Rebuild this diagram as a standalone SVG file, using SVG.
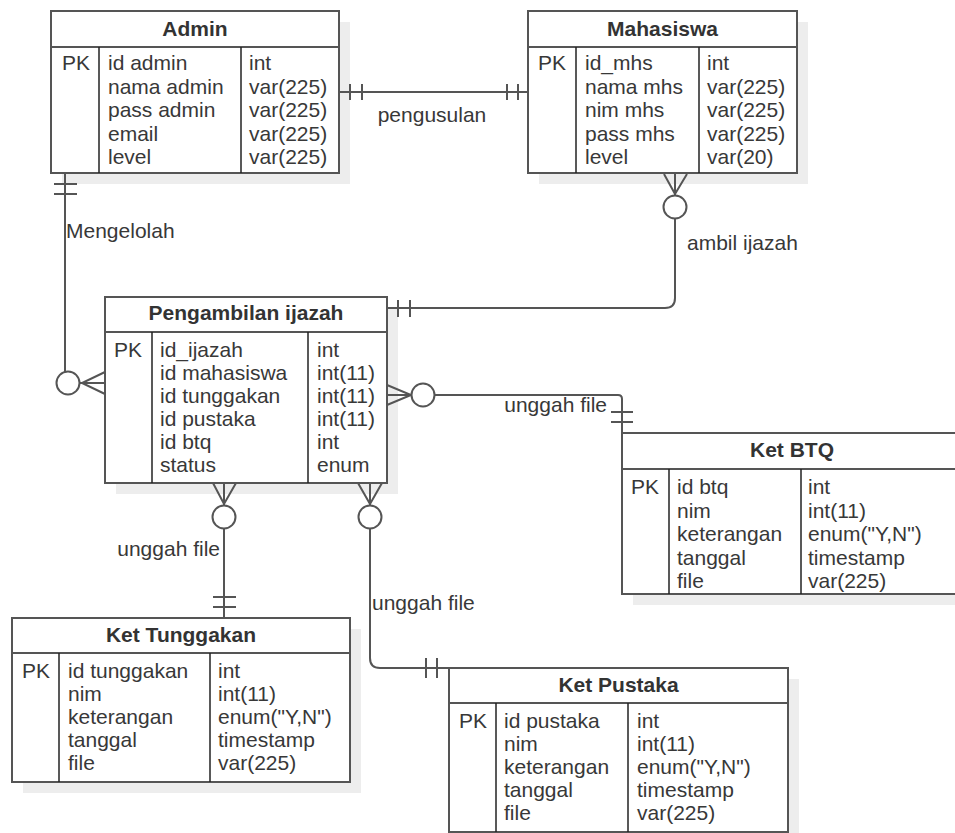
<svg xmlns="http://www.w3.org/2000/svg" width="955" height="833" viewBox="0 0 955 833">
  <style>
    text { font-family: "Liberation Sans", Arial, sans-serif; font-size: 21px; fill: #383838; }
    .hd { font-weight: bold; text-anchor: middle; fill: #333; }
    .shadow { fill: #ededed; stroke: none; }
    .box { fill: #fff; stroke: #555; stroke-width: 2; }
    .sep { stroke: #555; stroke-width: 2; }
    .col { stroke: #222; stroke-width: 1.5; }
    .edge { fill: none; stroke: #555; stroke-width: 2; }
    .ring { fill: #fff; stroke: #555; stroke-width: 2; }
  </style>

  <!-- entity tables -->
  <g id="admin">
    <rect class="shadow" x="62" y="22" width="288" height="162"/>
    <rect class="box" x="51" y="11" width="288" height="162"/>
    <line class="sep" x1="51" y1="47" x2="339" y2="47"/>
    <line class="col" x1="99" y1="47" x2="99" y2="173"/>
    <line class="col" x1="241" y1="47" x2="241" y2="173"/>
    <text class="hd" x="195" y="36">Admin</text>
    <text x="62" y="70">PK</text>
    <text x="108" y="70">id admin</text>
    <text x="108" y="93.5">nama admin</text>
    <text x="108" y="117">pass admin</text>
    <text x="108" y="140.5">email</text>
    <text x="108" y="164">level</text>
    <text x="249" y="70">int</text>
    <text x="249" y="93.5">var(225)</text>
    <text x="249" y="117">var(225)</text>
    <text x="249" y="140.5">var(225)</text>
    <text x="249" y="164">var(225)</text>
  </g>

  <g id="mahasiswa">
    <rect class="shadow" x="539" y="22" width="269" height="162"/>
    <rect class="box" x="528" y="11" width="269" height="162"/>
    <line class="sep" x1="528" y1="47" x2="797" y2="47"/>
    <line class="col" x1="576" y1="47" x2="576" y2="173"/>
    <line class="col" x1="699" y1="47" x2="699" y2="173"/>
    <text class="hd" x="662.5" y="36">Mahasiswa</text>
    <text x="538" y="70">PK</text>
    <text x="585" y="70">id_mhs</text>
    <text x="585" y="93.5">nama mhs</text>
    <text x="585" y="117">nim mhs</text>
    <text x="585" y="140.5">pass mhs</text>
    <text x="585" y="164">level</text>
    <text x="707" y="70">int</text>
    <text x="707" y="93.5">var(225)</text>
    <text x="707" y="117">var(225)</text>
    <text x="707" y="140.5">var(225)</text>
    <text x="707" y="164">var(20)</text>
  </g>

  <g id="pengambilan-ijazah">
    <rect class="shadow" x="116" y="308" width="282" height="186"/>
    <rect class="box" x="105" y="297" width="282" height="186"/>
    <line class="sep" x1="105" y1="332" x2="387" y2="332"/>
    <line class="col" x1="152" y1="332" x2="152" y2="483"/>
    <line class="col" x1="308" y1="332" x2="308" y2="483"/>
    <text class="hd" x="246" y="320">Pengambilan ijazah</text>
    <text x="114" y="357">PK</text>
    <text x="160" y="357">id_ijazah</text>
    <text x="160" y="380">id mahasiswa</text>
    <text x="160" y="403">id tunggakan</text>
    <text x="160" y="426">id pustaka</text>
    <text x="160" y="449">id btq</text>
    <text x="160" y="472">status</text>
    <text x="317" y="357">int</text>
    <text x="317" y="380">int(11)</text>
    <text x="317" y="403">int(11)</text>
    <text x="317" y="426">int(11)</text>
    <text x="317" y="449">int</text>
    <text x="317" y="472">enum</text>
  </g>

  <g id="ket-btq">
    <rect class="shadow" x="633" y="444" width="340" height="161"/>
    <rect class="box" x="622" y="433" width="340" height="161"/>
    <line class="sep" x1="622" y1="469" x2="962" y2="469"/>
    <line class="col" x1="669" y1="469" x2="669" y2="594"/>
    <line class="col" x1="801" y1="469" x2="801" y2="594"/>
    <text class="hd" x="792" y="457">Ket BTQ</text>
    <text x="631" y="494">PK</text>
    <text x="677" y="494">id btq</text>
    <text x="677" y="517.5">nim</text>
    <text x="677" y="541">keterangan</text>
    <text x="677" y="564.5">tanggal</text>
    <text x="677" y="588">file</text>
    <text x="808" y="494">int</text>
    <text x="808" y="517.5">int(11)</text>
    <text x="808" y="541">enum("Y,N")</text>
    <text x="808" y="564.5">timestamp</text>
    <text x="808" y="588">var(225)</text>
  </g>

  <g id="ket-tunggakan">
    <rect class="shadow" x="23" y="629" width="338" height="164"/>
    <rect class="box" x="12" y="618" width="338" height="164"/>
    <line class="sep" x1="12" y1="653" x2="350" y2="653"/>
    <line class="col" x1="59" y1="653" x2="59" y2="782"/>
    <line class="col" x1="210" y1="653" x2="210" y2="782"/>
    <text class="hd" x="181" y="642">Ket Tunggakan</text>
    <text x="22" y="678">PK</text>
    <text x="68" y="678">id tunggakan</text>
    <text x="68" y="701">nim</text>
    <text x="68" y="724">keterangan</text>
    <text x="68" y="747">tanggal</text>
    <text x="68" y="770">file</text>
    <text x="218" y="678">int</text>
    <text x="218" y="701">int(11)</text>
    <text x="218" y="724">enum("Y,N")</text>
    <text x="218" y="747">timestamp</text>
    <text x="218" y="770">var(225)</text>
  </g>

  <g id="ket-pustaka">
    <rect class="shadow" x="460" y="679" width="339" height="164"/>
    <rect class="box" x="449" y="668" width="339" height="164"/>
    <line class="sep" x1="449" y1="703" x2="788" y2="703"/>
    <line class="col" x1="496" y1="703" x2="496" y2="832"/>
    <line class="col" x1="628" y1="703" x2="628" y2="832"/>
    <text class="hd" x="618.5" y="692">Ket Pustaka</text>
    <text x="459" y="728">PK</text>
    <text x="504" y="728">id pustaka</text>
    <text x="504" y="751">nim</text>
    <text x="504" y="774">keterangan</text>
    <text x="504" y="797">tanggal</text>
    <text x="504" y="820">file</text>
    <text x="637" y="728">int</text>
    <text x="637" y="751">int(11)</text>
    <text x="637" y="774">enum("Y,N")</text>
    <text x="637" y="797">timestamp</text>
    <text x="637" y="820">var(225)</text>
  </g>

  <!-- relationships -->
  <g id="connectors">
    <!-- Admin || pengusulan || Mahasiswa -->
    <path class="edge" d="M339,92 H528"/>
    <path class="edge" d="M350,84 V100 M362,84 V100 M507,84 V100 M518,84 V100"/>
    <text x="432" y="122" text-anchor="middle">pengusulan</text>

    <!-- Admin || Mengelolah o< Pengambilan ijazah -->
    <path class="edge" d="M65,174 V383 H105"/>
    <path class="edge" d="M54,184 H77 M54,194 H77"/>
    <path class="edge" d="M105,372 L82,383 L105,394"/>
    <circle class="ring" cx="68" cy="383" r="11.5"/>
    <text x="66" y="238">Mengelolah</text>

    <!-- Mahasiswa >o ambil ijazah || Pengambilan ijazah -->
    <path class="edge" d="M675,174 V298 Q675,308 665,308 H387"/>
    <path class="edge" d="M664,174 L675,194 L687,174"/>
    <circle class="ring" cx="675" cy="207" r="11.5"/>
    <path class="edge" d="M398,300 V317 M410,300 V317"/>
    <text x="687" y="250">ambil ijazah</text>

    <!-- Pengambilan ijazah >o unggah file || Ket BTQ -->
    <path class="edge" d="M387,395 H618 Q622,395 622,399 V433"/>
    <path class="edge" d="M387,385 L411,395 L387,405"/>
    <circle class="ring" cx="423" cy="395" r="11.5"/>
    <path class="edge" d="M611,412 H633 M611,422 H633"/>
    <text x="607" y="412" text-anchor="end">unggah file</text>

    <!-- Pengambilan ijazah >o unggah file || Ket Tunggakan -->
    <path class="edge" d="M224,483 V618"/>
    <path class="edge" d="M213,483 L224,504 L236,483"/>
    <circle class="ring" cx="224" cy="517" r="11.5"/>
    <path class="edge" d="M213,597 H236 M213,607 H236"/>
    <text x="220" y="556" text-anchor="end">unggah file</text>

    <!-- Pengambilan ijazah >o unggah file || Ket Pustaka -->
    <path class="edge" d="M370,483 V658 Q370,668 380,668 H449"/>
    <path class="edge" d="M358,483 L370,504 L382,483"/>
    <circle class="ring" cx="370" cy="517" r="11.5"/>
    <path class="edge" d="M426,658 V678 M437,658 V678"/>
    <text x="372" y="610">unggah file</text>
  </g>
</svg>
